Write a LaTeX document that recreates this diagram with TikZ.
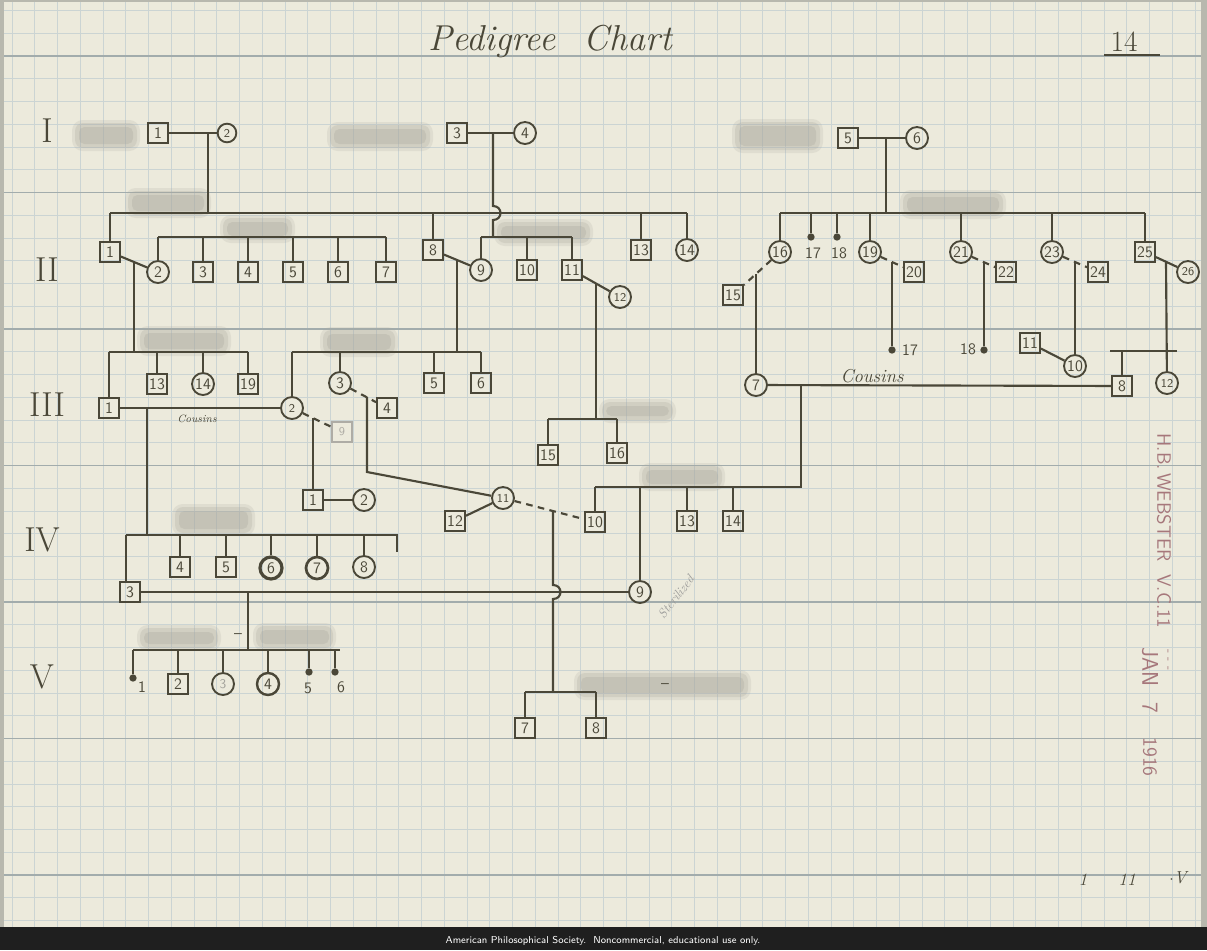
\documentclass[tikz,border=0pt]{standalone}
\usetikzlibrary{calc}
\definecolor{paper}{HTML}{ECEADC}
\definecolor{ink}{HTML}{4A4738}
\definecolor{gridm}{HTML}{CBD4D3}
\definecolor{gridM}{HTML}{A2ACAC}
\definecolor{stampc}{HTML}{A6777B}
\definecolor{pencil}{HTML}{9C9C9A}
\definecolor{blurc}{HTML}{A9A79C}
\definecolor{edge}{HTML}{B8B8AE}
\newcommand\blurbox[4]{%
  \fill[blurc,opacity=0.18,rounded corners=8pt] (#1-3,#2-3) rectangle (#3+3,#4+3);
  \fill[blurc,opacity=0.25,rounded corners=6pt] (#1,#2) rectangle (#3,#4);
  \fill[blurc,opacity=0.30,rounded corners=4pt] (#1+4,#2+4) rectangle (#3-4,#4-4);}
\begin{document}
\begin{tikzpicture}[x=0.75pt,y=-0.75pt,
  sq/.style={draw=ink,line width=1.4pt,minimum size=15pt,inner sep=0pt,text=ink,font=\sffamily\fontsize{12}{12}\selectfont},
  ci/.style={sq,circle,minimum size=16.5pt},
  dt/.style={circle,fill=ink,minimum size=5.5pt,inner sep=0pt},
  ln/.style={draw=ink,line width=1.6pt},
  dl/.style={ln,dash pattern=on 5pt off 4pt},
  lab/.style={text=ink,font=\sffamily\fontsize{12}{12}\selectfont,inner sep=1pt},
  roman/.style={text=ink,font=\fontsize{26}{26}\selectfont},
  stamp/.style={text=stampc,font=\sffamily\fontsize{14.5}{14.5}\selectfont,rotate=-90,inner sep=0pt}]
\useasboundingbox (0,0) rectangle (1207,950);
% paper and grid
\fill[edge] (0,0) rectangle (1207,950);
\fill[paper] (4,2) rectangle (1201,927);
\foreach \i in {0,...,52} \draw[gridm,line width=0.5pt] ({12+\i*22.75},2) -- ({12+\i*22.75},927);
\foreach \i in {0,...,40} \draw[gridm,line width=0.5pt] (4,{10.5+\i*22.75}) -- (1201,{10.5+\i*22.75});
\foreach \i in {0,...,6} \draw[gridM,line width=0.8pt] (4,{56+\i*136.5}) -- (1201,{56+\i*136.5});
\fill[black!88] (0,927) rectangle (1207,950);
\node[text=white,font=\sffamily\fontsize{7.5}{7.5}\selectfont] (apsnote) at (603,941) {American Philosophical Society.\ \ Noncommercial, educational use only.};
% title
\node[text=ink,font=\itshape\fontsize{27}{27}\selectfont] (title) at (550,41) {Pedigree\hspace{0.8em}Chart};
\node[text=ink,font=\fontsize{22}{22}\selectfont] (pgno) at (1124,42) {14};
\draw[ink,line width=1.4pt] (1104,55) -- (1160,55);
% generation numerals
\node[roman] (gI) at (47,131) {I};
\node[roman] (gII) at (47,270) {II};
\node[roman] (gIII) at (47,405) {III};
\node[roman] (gIV) at (42,540) {IV};
\node[roman] (gV) at (42,677) {V};
% blurred names
\blurbox{75}{123}{137}{148}
\blurbox{330}{125}{430}{148}
\blurbox{735}{122}{820}{150}
\blurbox{128}{191}{208}{215}
\blurbox{223}{218}{292}{240}
\blurbox{497}{222}{590}{243}
\blurbox{903}{193}{1003}{216}
\blurbox{140}{329}{228}{353}
\blurbox{323}{330}{395}{354}
\blurbox{602}{402}{673}{420}
\blurbox{642}{466}{722}{488}
\blurbox{175}{507}{252}{533}
\blurbox{140}{628}{218}{648}
\blurbox{256}{626}{333}{648}
\blurbox{577}{673}{748}{697}
\node[lab] (dashV) at (238,636) {--};
\node[lab] (dashW) at (665,686) {--};
% ===== Generation I
\node[sq] (a1) at (158,133) {1};
\node[ci,minimum size=14pt,font=\sffamily\fontsize{9}{9}\selectfont] (a2) at (227,133) {2};
\node[sq] (a3) at (457,133) {3};
\node[ci] (a4) at (525,133) {4};
\node[sq] (a5) at (848,138) {5};
\node[ci] (a6) at (917,138) {6};
\draw[ln] (a1) -- (a2);
\draw[ln] (a3) -- (a4);
\draw[ln] (a5) -- (a6);
\coordinate (m12) at (208,133);
\coordinate (m34) at (493,133);
\coordinate (m56) at (886,138);
% ===== Generation II, left
\coordinate (sAL) at (110,213);
\coordinate (sAR) at (687,213);
\coordinate (sA) at (208,213);
\draw[ln] (m12) -- (sA);
\draw[ln] (sAL) -- (sAR);
\node[sq] (b1) at (110,252) {1};
\node[sq] (b8) at (433,250) {8};
\node[sq] (b13) at (641,250) {13};
\node[ci] (b14) at (687,250) {14};
\foreach \n in {b1,b8,b13,b14} \draw[ln] (\n |- sAL) -- (\n);
\coordinate (sBL) at (158,237);
\coordinate (sBR) at (386,237);
\draw[ln] (sBL) -- (sBR);
\node[ci] (b2) at (158,272) {2};
\foreach \k/\x in {3/203,4/248,5/293,6/338,7/386} \node[sq] (b\k) at (\x,272) {\k};
\foreach \n in {b2,b3,b4,b5,b6,b7} \draw[ln] (\n |- sBL) -- (\n);
% 3-4 line with hop over the sibship line
\coordinate (h1a) at (493,206);
\coordinate (h1b) at (493,220);
\coordinate (sC) at (493,237);
\coordinate (sCL) at (481,237);
\coordinate (sCR) at (572,237);
\draw[ln] (m34) -- (h1a) .. controls +(10,0) and +(10,0) .. (h1b) -- (sC);
\draw[ln] (sCL) -- (sCR);
\node[ci] (b9) at (481,270) {9};
\node[sq] (b10) at (527,270) {10};
\node[sq] (b11) at (572,270) {11};
\node[ci,font=\sffamily\fontsize{9}{9}\selectfont] (b12) at (620,297) {12};
\foreach \n in {b9,b10,b11} \draw[ln] (\n |- sCL) -- (\n);
% ===== Generation II, right
\coordinate (sDL) at (780,213);
\coordinate (sDR) at (1145,213);
\coordinate (sD) at (886,213);
\draw[ln] (m56) -- (sD);
\draw[ln] (sDL) -- (sDR);
\node[ci] (b16) at (780,252) {16};
\node[dt] (x17) at (811,237) {};
\node[dt] (x18) at (837,237) {};
\node[lab] (l17) at (813,253) {17};
\node[lab] (l18) at (839,253) {18};
\node[ci] (b19) at (870,252) {19};
\node[ci] (b21) at (961,252) {21};
\node[ci] (b23) at (1052,252) {23};
\node[sq] (b25) at (1145,252) {25};
\foreach \n in {b16,x17,x18,b19,b21,b23,b25} \draw[ln] (\n |- sDL) -- (\n);
\node[sq] (b15) at (733,295) {15};
\node[sq] (b20) at (914,272) {20};
\node[sq] (b22) at (1006,272) {22};
\node[sq] (b24) at (1098,272) {24};
\node[ci,font=\sffamily\fontsize{9}{9}\selectfont] (b26) at (1188,272) {26};
\draw[dl] (b16) -- (b15);
\draw[dl] (b19) -- (b20);
\draw[dl] (b21) -- (b22);
\draw[dl] (b23) -- (b24);
\draw[ln] (b25) -- (b26);
% ===== Generation II marriages, left
\draw[ln] (b1) -- (b2);
\draw[ln] (b8) -- (b9);
\draw[ln] (b11) -- (b12);
\coordinate (mb12) at (134,262);
\coordinate (mb89) at (457,260);
\coordinate (mb1112) at (596,283);
% ===== Generation III, left
\coordinate (sEL) at (109,352);
\coordinate (sER) at (248,352);
\coordinate (sE) at (134,352);
\draw[ln] (mb12) -- (sE);
\draw[ln] (sEL) -- (sER);
\node[sq] (c1) at (109,408) {1};
\node[sq] (c13) at (157,384) {13};
\node[ci] (c14) at (203,384) {14};
\node[sq] (c19) at (248,384) {19};
\foreach \n in {c1,c13,c14,c19} \draw[ln] (\n |- sEL) -- (\n);
\coordinate (sFL) at (292,352);
\coordinate (sFR) at (481,352);
\coordinate (sF) at (457,352);
\draw[ln] (mb89) -- (sF);
\draw[ln] (sFL) -- (sFR);
\node[ci,font=\sffamily\fontsize{9}{9}\selectfont] (c2) at (292,408) {2};
\node[ci] (c3) at (340,383) {3};
\node[sq] (c5) at (434,383) {5};
\node[sq] (c6) at (481,383) {6};
\foreach \n in {c2,c3,c5,c6} \draw[ln] (\n |- sFL) -- (\n);
\coordinate (sGL) at (548,419);
\coordinate (sGR) at (617,419);
\coordinate (sG) at (596,419);
\draw[ln] (mb1112) -- (sG);
\draw[ln] (sGL) -- (sGR);
\node[sq] (c15) at (548,455) {15};
\node[sq] (c16) at (617,453) {16};
\foreach \n in {c15,c16} \draw[ln] (\n |- sGL) -- (\n);
% ===== Generation III, right
\coordinate (mb1516) at (756,274);
\node[ci] (c7) at (756,385) {7};
\draw[ln] (mb1516) -- (c7);
\coordinate (mb1920) at (892,262);
\node[dt] (y17) at (892,350) {};
\node[lab] (ly17) at (910,350) {17};
\draw[ln] (mb1920) -- (y17);
\coordinate (mb2122) at (984,262);
\node[dt] (y18) at (984,350) {};
\node[lab] (ly18) at (968,349) {18};
\draw[ln] (mb2122) -- (y18);
\coordinate (mb2324) at (1075,262);
\node[ci] (c10) at (1075,366) {10};
\node[sq] (c11) at (1030,343) {11};
\draw[ln] (mb2324) -- (c10);
\draw[ln] (c11) -- (c10);
\coordinate (mb2526) at (1166,262);
\coordinate (sHL) at (1110,351);
\coordinate (sHR) at (1177,351);
\node[sq] (c8) at (1122,386) {8};
\node[ci,font=\sffamily\fontsize{9}{9}\selectfont] (c12) at (1167,383) {12};
\draw[ln] (sHL) -- (sHR);
\draw[ln] (mb2526) -- (c12);
\draw[ln] (c8 |- sHL) -- (c8);
% III-7 x III-8 (cousins)
\draw[ln] (c7) -- (c8);
\node[text=ink,font=\itshape\fontsize{14}{14}\selectfont] (cous2) at (872,376) {Cousins};
\coordinate (m78) at (801,386);
\coordinate (sI) at (801,487);
\coordinate (sIL) at (595,487);
\draw[ln] (m78) -- (sI) -- (sIL);
% III-1 x III-2 (cousins)
\draw[ln] (c1) -- (c2);
\node[text=ink,font=\itshape\fontsize{8}{8}\selectfont] (cous1) at (197,419) {Cousins};
\node[sq,draw=ink!45,text=ink!45,font=\sffamily\fontsize{9}{9}\selectfont] (c9) at (342,432) {9};
\draw[dl] (c2) -- (c9);
\node[sq] (c4) at (387,408) {4};
\draw[dl] (c3) -- (c4);
% ===== Generation IV
\coordinate (mc12) at (147,409);
\coordinate (sJ) at (147,535);
\coordinate (sJL) at (126,535);
\coordinate (sJR) at (397,535);
\coordinate (sJH) at (397,552);
\draw[ln] (mc12) -- (sJ);
\draw[ln] (sJL) -- (sJR) -- (sJH);
\node[sq] (d3) at (130,592) {3};
\draw[ln] (sJL) -- (sJL |- d3.north);
\node[sq] (d4) at (180,567) {4};
\node[sq] (d5) at (226,567) {5};
\node[ci,line width=2.4pt] (d6) at (271,568) {6};
\node[ci,line width=2pt] (d7) at (317,568) {7};
\node[ci] (d8) at (364,567) {8};
\foreach \n in {d4,d5,d6,d7,d8} \draw[ln] (\n |- sJL) -- (\n);
\coordinate (mc29) at (313,418);
\node[sq] (d1) at (313,500) {1};
\node[ci] (d2) at (364,500) {2};
\draw[ln] (mc29) -- (d1);
\draw[ln] (d1) -- (d2);
\coordinate (mc34) at (367,397);
\coordinate (kn) at (367,472);
\node[ci,font=\sffamily\fontsize{9}{9}\selectfont] (d11) at (503,498) {11};
\node[sq] (d12) at (455,521) {12};
\draw[ln] (mc34) -- (kn) -- (d11);
\draw[ln] (d11) -- (d12);
\node[sq] (d10) at (595,522) {10};
\node[ci] (d9) at (640,592) {9};
\node[sq] (d13) at (687,521) {13};
\node[sq] (d14) at (733,521) {14};
\foreach \n in {d10,d9,d13,d14} \draw[ln] (\n |- sIL) -- (\n);
\draw[dl] (d11) -- (d10);
% IV-3 x IV-9
\draw[ln] (d3) -- (d9);
\node[text=pencil,font=\itshape\fontsize{9.5}{9.5}\selectfont,rotate=52,inner sep=0pt] (steril) at (676,597) {Sterilized};
% IV-11 x IV-10 descent with hop
\coordinate (md1011) at (553,511);
\coordinate (h2a) at (553,585);
\coordinate (h2b) at (553,599);
\coordinate (sK) at (553,692);
\coordinate (sKL) at (525,692);
\coordinate (sKR) at (596,692);
\draw[ln] (md1011) -- (h2a) .. controls +(10,0) and +(10,0) .. (h2b) -- (sK);
\draw[ln] (sKL) -- (sKR);
\node[sq] (e7) at (525,728) {7};
\node[sq] (e8) at (596,728) {8};
\foreach \n in {e7,e8} \draw[ln] (\n |- sKL) -- (\n);
% ===== Generation V (left)
\coordinate (md39) at (248,592);
\coordinate (sL) at (248,650);
\coordinate (sLL) at (133,650);
\coordinate (sLR) at (340,650);
\draw[ln] (md39) -- (sL);
\draw[ln] (sLL) -- (sLR);
\node[dt] (e1) at (133,678) {};
\node[lab] (le1) at (142,687) {1};
\node[sq] (e2) at (178,684) {2};
\node[ci,text=ink!50,font=\sffamily\fontsize{10}{10}\selectfont] (e3) at (223,684) {3};
\node[ci,line width=1.8pt] (e4) at (268,684) {4};
\node[dt] (e5) at (309,672) {};
\node[lab] (le5) at (308,688) {5};
\node[dt] (e6) at (335,672) {};
\node[lab] (le6) at (341,687) {6};
\foreach \n in {e1,e2,e3,e4,e5,e6} \draw[ln] (\n |- sLL) -- (\n);
% ===== stamp and marks
\node[stamp] (st1) at (1164,531) {H.B.\,WEBSTER\ \ V.C.11};
\node[stamp,font=\sffamily\fontsize{17}{17}\selectfont] (st2) at (1150,667) {JAN};
\node[stamp,font=\sffamily\fontsize{17}{17}\selectfont] (st3) at (1150,708) {7};
\node[stamp,font=\sffamily\fontsize{15}{15}\selectfont] (st4) at (1150,757) {1916};
\node[stamp,font=\sffamily\fontsize{9}{9}\selectfont] (st5) at (1167,660) {-\,\,-\,\,-};
\node[text=ink,font=\itshape\fontsize{13}{13}\selectfont] (bm1) at (1083,880) {1};
\node[text=ink,font=\itshape\fontsize{13}{13}\selectfont] (bm2) at (1127,880) {11};
\node[text=ink,font=\itshape\fontsize{13}{13}\selectfont] (bm3) at (1178,878) {$\cdot$V};
\end{tikzpicture}
\end{document}
